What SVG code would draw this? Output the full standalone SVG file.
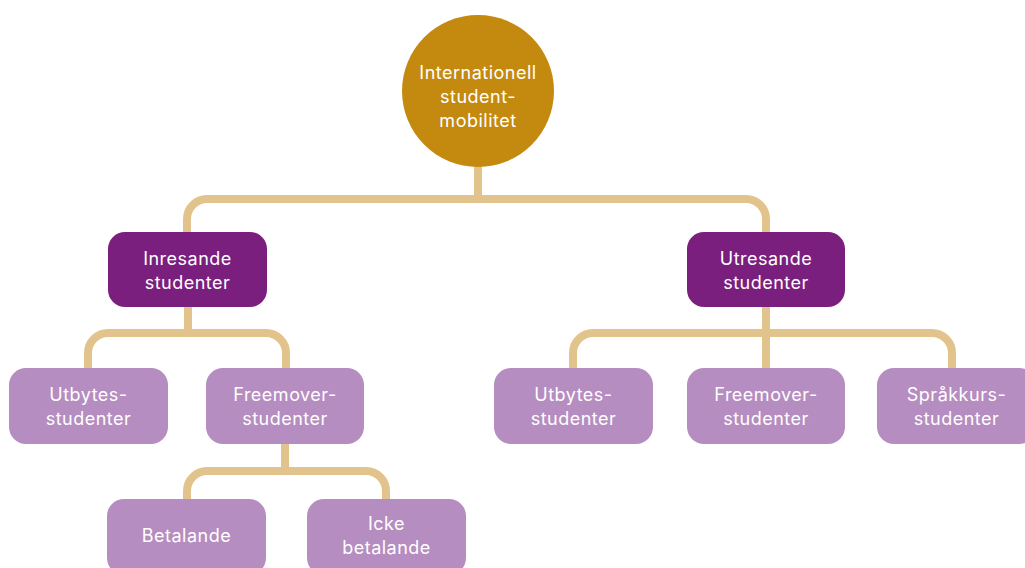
<svg xmlns="http://www.w3.org/2000/svg" width="1025" height="568" viewBox="0 0 1025 568">
<style>
.c{fill:none;stroke:#E2C38C;stroke-width:8;stroke-linecap:butt}
.dark{fill:#7B1F7E}
.light{fill:#B68DC0}
.root{fill:#C48A10}
text{font-family:Inter,"Noto Sans","Liberation Sans",sans-serif;font-size:18px;letter-spacing:0.5px;fill:#FFFFFF;text-anchor:middle;dominant-baseline:central}
</style>
<rect width="1025" height="568" fill="#FFFFFF"/>
<g id="connectors">
<path class="c" d="M478,166 V199"/>
<path class="c" d="M187,232 V219 A20,20 0 0 1 207,199 H746 A20,20 0 0 1 766,219 V232"/>
<path class="c" d="M188,307 V333"/>
<path class="c" d="M88,368 V353 A20,20 0 0 1 108,333 H266 A20,20 0 0 1 286,353 V368"/>
<path class="c" d="M766,307 V368"/>
<path class="c" d="M573,368 V353 A20,20 0 0 1 593,333 H932 A20,20 0 0 1 952,353 V368"/>
<path class="c" d="M285,444 V471"/>
<path class="c" d="M187,499 V491 A20,20 0 0 1 207,471 H366 A20,20 0 0 1 386,491 V499"/>
</g>
<g id="root">
<circle class="root" cx="478" cy="91" r="76"/>
<text x="478" y="72">Internationell</text>
<text x="478" y="96">student-</text>
<text x="478" y="120">mobilitet</text>
</g>
<g id="inresande">
<rect class="dark" x="108" y="232" width="159" height="75" rx="17"/>
<text x="187.5" y="258">Inresande</text>
<text x="187.5" y="282">studenter</text>
</g>
<g id="utresande">
<rect class="dark" x="687" y="232" width="158" height="75" rx="17"/>
<text x="766" y="258">Utresande</text>
<text x="766" y="282">studenter</text>
</g>
<g id="in-utbytes">
<rect class="light" x="9" y="368" width="159" height="76" rx="17"/>
<text x="88.5" y="394">Utbytes-</text>
<text x="88.5" y="418">studenter</text>
</g>
<g id="in-freemover">
<rect class="light" x="206" y="368" width="158" height="76" rx="17"/>
<text x="285" y="394">Freemover-</text>
<text x="285" y="418">studenter</text>
</g>
<g id="betalande">
<rect class="light" x="107" y="499" width="159" height="76" rx="17"/>
<text x="186.5" y="535">Betalande</text>
</g>
<g id="icke-betalande">
<rect class="light" x="307" y="499" width="159" height="76" rx="17"/>
<text x="386.5" y="523">Icke</text>
<text x="386.5" y="547">betalande</text>
</g>
<g id="ut-utbytes">
<rect class="light" x="494" y="368" width="159" height="76" rx="17"/>
<text x="573.5" y="394">Utbytes-</text>
<text x="573.5" y="418">studenter</text>
</g>
<g id="ut-freemover">
<rect class="light" x="687" y="368" width="158" height="76" rx="17"/>
<text x="766" y="394">Freemover-</text>
<text x="766" y="418">studenter</text>
</g>
<g id="sprakkurs">
<rect class="light" x="877" y="368" width="159" height="76" rx="17"/>
<text x="956.5" y="394">Språkkurs-</text>
<text x="956.5" y="418">studenter</text>
</g>
</svg>
